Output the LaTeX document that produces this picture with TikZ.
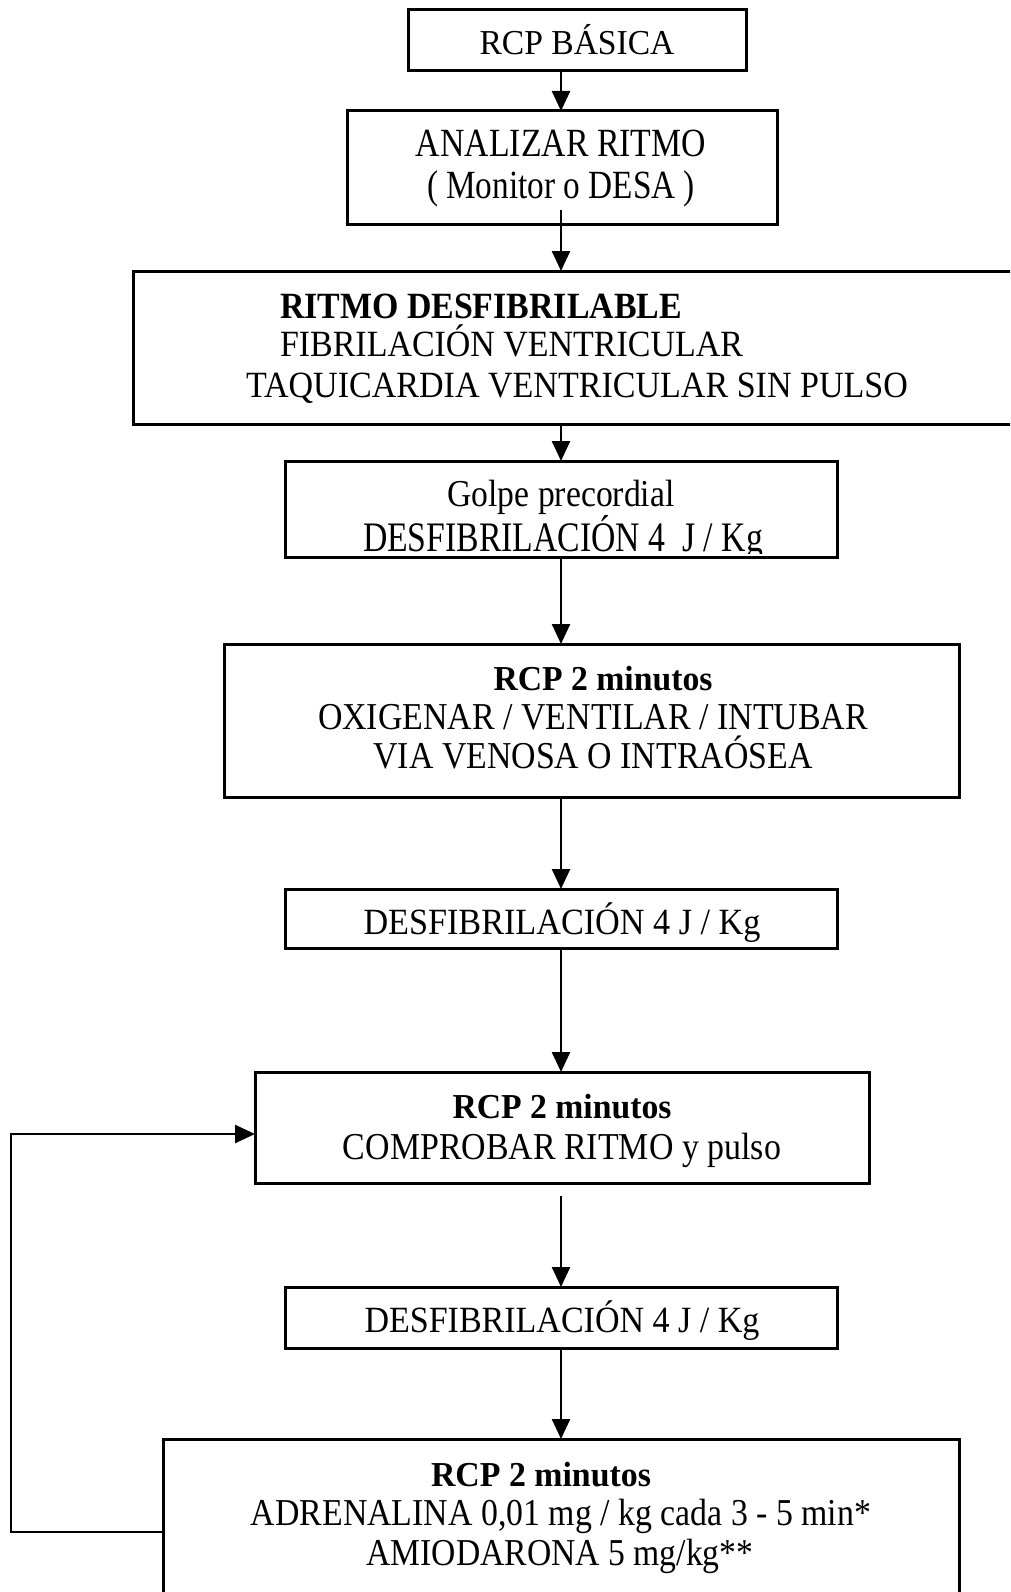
\documentclass[tikz,border=0pt]{standalone}
\usepackage{fontspec}
\setmainfont{Liberation Serif}
\usetikzlibrary{arrows.meta,calc}
% one line of text at a given size, stretched to a given width
\newcommand\fitline[3]{{\fontsize{#1}{#1}\selectfont\resizebox{#2}{\height}{#3}}}
\newcommand\fitbold[3]{{\fontsize{#1}{#1}\selectfont\bfseries\resizebox{#2}{\height}{#3}}}
\begin{document}
\begin{tikzpicture}[x=1pt,y=-1pt,
  box/.style={draw, line width=3pt, inner sep=0pt, outer sep=0pt},
  txt/.style={inner sep=0pt, outer sep=0pt, anchor=base},
  ltxt/.style={inner sep=0pt, outer sep=0pt, anchor=base west},
  flow/.style={line width=2.5pt, -{Triangle[length=20pt,width=18pt]}}]
\useasboundingbox (0,0) rectangle (1010,1592);
\clip (0,0) rectangle (1010,1592);

% boxes
\node[box, minimum width=338pt, minimum height=61pt]  (b1) at (577,40.5) {};
\node[box, minimum width=430pt, minimum height=113pt] (b2) at (562,167.5) {};
\node[box, minimum width=887pt, minimum height=153pt] (b3) at (576.5,347.5) {};
\node[box, minimum width=552pt, minimum height=96pt]  (b4) at (561,509) {};
\node[box, minimum width=735pt, minimum height=153pt] (b5) at (591.5,720.5) {};
\node[box, minimum width=552pt, minimum height=59pt]  (b6) at (561,918.5) {};
\node[box, minimum width=614pt, minimum height=111pt] (b7) at (562,1127.5) {};
\node[box, minimum width=552pt, minimum height=61pt]  (b8) at (561,1317.5) {};
\node[box, minimum width=796pt, minimum height=186pt] (b9) at (561,1532) {};

% texts
\node[txt] (t1) at (577,55) {\fitline{35}{195pt}{RCP BÁSICA}};

\node[txt] (t2a) at (561,157) {\fitline{40}{290pt}{ANALIZAR RITMO}};
\node[txt] (t2b) at (561,198) {\fitline{40}{268pt}{( Monitor o DESA )}};

\node[ltxt] (t3a) at (280,318) {\fitbold{37}{402pt}{RITMO DESFIBRILABLE}};
\node[ltxt] (t3b) at (280,356) {\fitline{37}{463pt}{FIBRILACIÓN VENTRICULAR}};
\node[ltxt] (t3c) at (246,397) {\fitline{37}{662pt}{TAQUICARDIA VENTRICULAR SIN PULSO}};

\node[txt] (t4a) at (561,506) {\fitline{38}{227pt}{Golpe precordial}};
\begin{scope}
  \clip (b4.north west) rectangle ($(b4.south east)+(0,-3.5)$);
  \node[txt] (t4b) at (563,551) {\fitline{42}{400pt}{DESFIBRILACIÓN 4~~J / Kg}};
\end{scope}

\node[txt] (t5a) at (603,690) {\fitbold{35}{219pt}{RCP 2 minutos}};
\node[txt] (t5b) at (593,729) {\fitline{38}{550pt}{OXIGENAR / VENTILAR / INTUBAR}};
\node[txt] (t5c) at (593,768) {\fitline{38}{439pt}{VIA VENOSA O INTRAÓSEA}};

\node[txt] (t6) at (562,934) {\fitline{37}{397pt}{DESFIBRILACIÓN 4 J / Kg}};

\node[txt] (t7a) at (562,1118) {\fitbold{35}{219pt}{RCP 2 minutos}};
\node[txt] (t7b) at (562,1159) {\fitline{38}{438pt}{COMPROBAR RITMO y pulso}};

\node[txt] (t8) at (562,1332) {\fitline{37}{395pt}{DESFIBRILACIÓN 4 J / Kg}};

\node[txt] (t9a) at (541,1486) {\fitbold{35}{220pt}{RCP 2 minutos}};
\node[txt] (t9b) at (561,1525) {\fitline{38}{620pt}{ADRENALINA 0,01 mg / kg cada 3 - 5 min*}};
\node[txt] (t9c) at (560,1565) {\fitline{38}{387pt}{AMIODARONA 5 mg/kg**}};

% connectors
\coordinate (ax) at (561,0);
\draw[flow] (b1.south -| ax) -- (b2.north -| ax);
\draw[flow] ($(b2.south -| ax)+(0,-14)$) -- (b3.north -| ax);
\draw[flow] (b3.south -| ax) -- (b4.north -| ax);
\draw[flow] (b4.south -| ax) -- (b5.north -| ax);
\draw[flow] (b5.south -| ax) -- (b6.north -| ax);
\draw[flow] (b6.south -| ax) -- (b7.north -| ax);
\draw[flow] ($(b7.south -| ax)+(0,13)$) -- (b8.north -| ax);
\draw[flow] (b8.south -| ax) -- (b9.north -| ax);

% loop back from the last box
\coordinate (lb) at (11,1532);
\coordinate (lt) at (11,1134);
\draw[flow] (b9.west) -- (lb) -- (lt) -- (b7.west |- lt);
\end{tikzpicture}
\end{document}
